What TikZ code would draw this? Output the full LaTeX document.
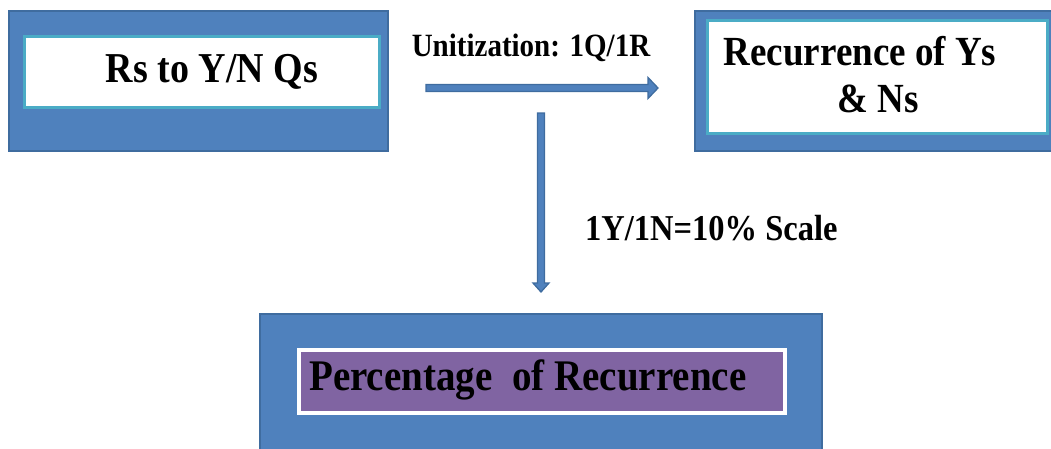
\documentclass[tikz,border=0pt]{standalone}
\usepackage{fontspec}
\setmainfont{Liberation Serif}
\usetikzlibrary{calc,shadows}
\definecolor{panelblue}{HTML}{4F81BD}
\definecolor{paneledge}{HTML}{3F6C9F}
\definecolor{cardedge}{HTML}{4BACC6}
\definecolor{plum}{HTML}{8064A2}
\newcommand{\tall}[1]{\scalebox{1}[1.12]{#1}}
\tikzset{
  panel/.style={draw=paneledge, line width=1.5pt, fill=panelblue},
  card/.style={draw=cardedge, line width=2.5pt, fill=white},
  plumcard/.style={draw=white, line width=4pt, fill=plum,
    drop shadow={shadow xshift=1pt, shadow yshift=-1.5pt, opacity=0.35}},
  label/.style={font=\bfseries, text=black, inner sep=0pt},
  blockarrow/.style={draw=paneledge, line width=1.3pt, fill=panelblue, line join=miter},
}
\begin{document}
\begin{tikzpicture}[x=1pt,y=-1pt]
  \useasboundingbox (0,0) rectangle (1051,448);

  % top-left panel: questions
  \node[panel, minimum width=379pt, minimum height=140pt, anchor=north west] (qpanel) at (8,10) {};
  \node[card, minimum width=355pt, minimum height=71pt, anchor=north west] (qcard) at (23,35) {};
  \node[label, font=\bfseries\fontsize{38}{42}\selectfont] (qtext) at (212,72) {\tall{Rs to Y/N Qs}};

  % top-right panel: recurrence counts
  \node[panel, minimum width=362pt, minimum height=140pt, anchor=north west] (rpanel) at (694,10) {};
  \node[card, minimum width=340pt, minimum height=113pt, anchor=north west] (rcard) at (706,19) {};
  \node[label, font=\bfseries\fontsize{37}{40}\selectfont] (rtext1) at (860,51) {\tall{Recurrence of Ys}};
  \node[label, font=\bfseries\fontsize{37}{40}\selectfont] (rtext2) at (878,99) {\tall{\& Ns}};

  % bottom panel: percentage
  \node[panel, minimum width=562pt, minimum height=150pt, anchor=north west] (ppanel) at (259,313) {};
  \node[plumcard, minimum width=486pt, minimum height=63pt, anchor=north west] (pcard) at (297,348) {};
  \node[label, font=\bfseries\fontsize{39}{42}\selectfont, anchor=west] (ptext) at (309,380) {\tall{Percentage\ \ of Recurrence}};

  % connectors drawn as block arrows between named end points
  \coordinate (hstart) at (426,88);
  \coordinate (hend) at (658,88);
  \coordinate (vstart) at (541,113);
  \coordinate (vend) at (541,292);
  \draw[blockarrow]
    ($(hstart)+(0,-3.5)$) -- ($(hend)+(-10,-3.5)$) -- ($(hend)+(-10,-10.5)$) -- (hend)
    -- ($(hend)+(-10,10.5)$) -- ($(hend)+(-10,3.5)$) -- ($(hstart)+(0,3.5)$) -- cycle;
  \draw[blockarrow]
    ($(vstart)+(-3.5,0)$) -- ($(vend)+(-3.5,-9)$) -- ($(vend)+(-8,-9)$) -- (vend)
    -- ($(vend)+(8,-9)$) -- ($(vend)+(3.5,-9)$) -- ($(vstart)+(3.5,0)$) -- cycle;

  \node[label, font=\bfseries\fontsize{29}{32}\selectfont] (ulabel) at (531,48) {\tall{Unitization: 1Q/1R}};
  \node[label, font=\bfseries\fontsize{32.5}{34}\selectfont, anchor=west] (slabel) at (585,228) {\tall{1Y/1N=10\% Scale}};
\end{tikzpicture}
\end{document}
